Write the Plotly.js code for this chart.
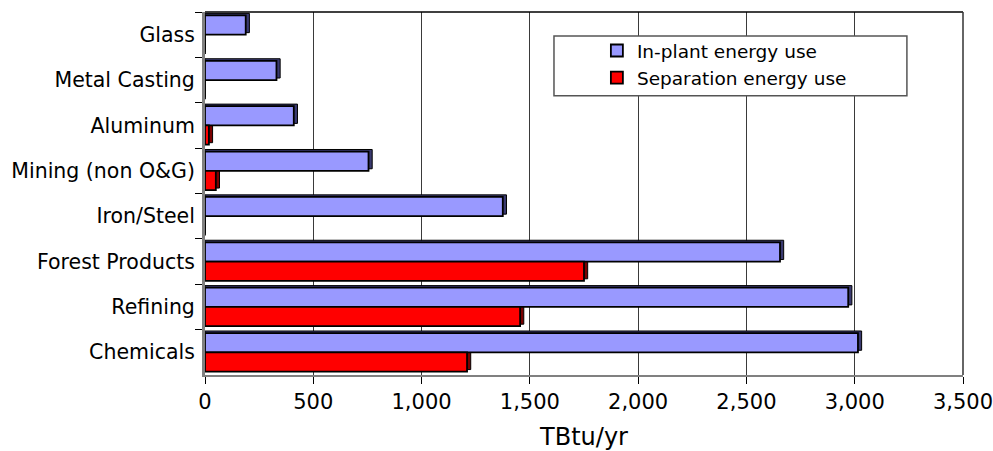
<!DOCTYPE html>
<html>
<head>
<meta charset="utf-8">
<script src="https://cdn.plot.ly/plotly-3.0.1.min.js"></script>
<style>
  html, body { margin: 0; padding: 0; background: #fff; }
  #chart { width: 993px; height: 451px; }
</style>
</head>
<body>
<div id="chart"></div>
<script>
const categories = ["Glass", "Metal Casting", "Aluminum", "Mining (non O&G)", "Iron/Steel", "Forest Products", "Refining", "Chemicals"];
const inPlant = [188, 330, 410, 755, 1375, 2655, 2970, 3015];
const separation = [0, 0, 18, 50, 0, 1750, 1455, 1210];
const seriesNames = ["In-plant energy use", "Separation energy use"];
const xTicks = [0, 500, 1000, 1500, 2000, 2500, 3000, 3500];
const xTickLabels = ["0", "500", "1,000", "1,500", "2,000", "2,500", "3,000", "3,500"];

const FONT = "DejaVu Sans, Verdana, sans-serif";

// bar geometry (category units) and pseudo-3D depth
const BAR_W = 0.425;
const DEPTH_Y = 0.045;
const DEPTH_X = 17;
const withDepth = v => (v > 0 ? v + DEPTH_X : 0);

const traces = [
  {
    type: "bar", orientation: "h", showlegend: false, hoverinfo: "skip",
    y: categories, x: inPlant.map(withDepth),
    offset: -BAR_W - DEPTH_Y, width: BAR_W,
    marker: { color: "#3a3a70", line: { color: "#000", width: 1 } }
  },
  {
    type: "bar", orientation: "h", showlegend: false, hoverinfo: "skip",
    y: categories, x: separation.map(withDepth),
    offset: -DEPTH_Y, width: BAR_W,
    marker: { color: "#7a0000", line: { color: "#000", width: 1 } }
  },
  {
    type: "bar", orientation: "h", name: seriesNames[0],
    y: categories, x: inPlant,
    offset: -BAR_W, width: BAR_W,
    marker: { color: "#9999FF", line: { color: "#000000", width: 1.8 } },
    hoverinfo: "x+y"
  },
  {
    type: "bar", orientation: "h", name: seriesNames[1],
    y: categories, x: separation,
    offset: 0, width: BAR_W,
    marker: { color: "#FF0000", line: { color: "#000000", width: 1.8 } },
    hoverinfo: "x+y"
  }
];

const layout = {
  width: 993, height: 451,
  margin: { l: 205, r: 30, t: 12, b: 76 },
  paper_bgcolor: "#ffffff", plot_bgcolor: "#ffffff",
  barmode: "overlay",
  font: { family: FONT, color: "#000000", size: 19 },
  showlegend: true,
  legend: {
    x: 0.517, xanchor: "left", y: 0.945, yanchor: "top",
    bgcolor: "rgba(0,0,0,0)", borderwidth: 0,
    font: { family: FONT, size: 18.5, color: "#000" },
    tracegroupgap: 0, traceorder: "normal"
  },
  xaxis: {
    range: [0, 3500], tickvals: xTicks, ticktext: xTickLabels,
    showgrid: true, gridcolor: "#3a3a3a", gridwidth: 1,
    zeroline: false,
    showline: true, linecolor: "#808080", linewidth: 2, mirror: false,
    ticks: "outside", ticklen: 7, tickcolor: "#000", tickwidth: 1,
    tickfont: { family: FONT, size: 21, color: "#000" },
    ticklabeloverflow: "allow",
    title: { text: "TBtu/yr", font: { family: FONT, size: 24, color: "#000" }, standoff: 20 },
    fixedrange: true
  },
  yaxis: {
    type: "category", categoryorder: "array", categoryarray: categories,
    autorange: "reversed",
    showgrid: false, zeroline: false,
    showline: true, linecolor: "#808080", linewidth: 3,
    ticks: "outside", ticklen: 7, tickcolor: "#000", tickwidth: 1,
    tickson: "boundaries",
    tickfont: { family: FONT, size: 20.5, color: "#000" },
    ticklabelstandoff: 3,
    fixedrange: true
  },
  shapes: [
    { type: "line", xref: "paper", yref: "paper", x0: 0, x1: 1, y0: 1, y1: 1, line: { color: "#000", width: 1.5 } },
    { type: "line", xref: "paper", yref: "paper", x0: 1, x1: 1, y0: 0, y1: 1, line: { color: "#333", width: 1.5 } },
    { type: "rect", xref: "paper", yref: "paper", x0: 0.4604, x1: 0.926, y0: 0.769, y1: 0.934,
      fillcolor: "#ffffff", line: { color: "#555", width: 1.5 }, layer: "above" }
  ]
};

Plotly.newPlot("chart", traces, layout, { displayModeBar: false, staticPlot: true });
</script>
</body>
</html>
